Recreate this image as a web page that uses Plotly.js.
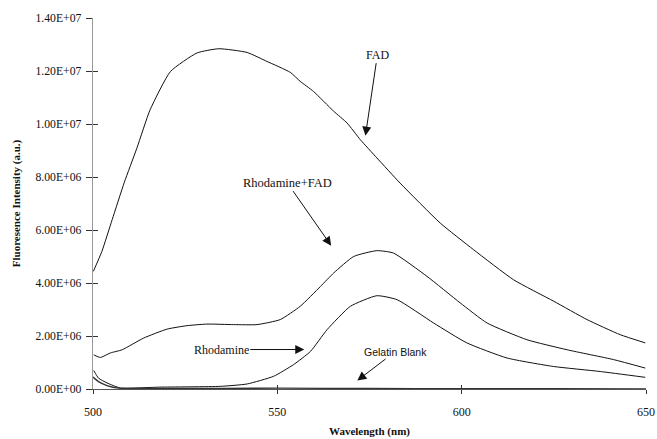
<!DOCTYPE html>
<html>
<head>
<meta charset="utf-8">
<script src="https://cdn.plot.ly/plotly-3.0.1.min.js"></script>
<style>html,body{margin:0;padding:0;background:#fff;}#chart{width:657px;height:439px;}</style>
</head>
<body>
<div id="chart"></div>
<script>
// FAD
const fadX = [500.1, 502.4, 505.2, 508.5, 511.9, 515.5, 521.0, 528.2, 534.1, 541.8, 547.2, 553.5, 556.2, 559.8, 565.3, 568.9, 572.5, 577.0, 583.3, 594.2, 603.2, 614.1, 625.0, 634.0, 643.0, 649.8];
const fadY = [4.44e6, 5.19e6, 6.39e6, 7.8e6, 9.09e6, 1.054e7, 1.198e7, 1.268e7, 1.284e7, 1.270e7, 1.236e7, 1.195e7, 1.161e7, 1.123e7, 1.048e7, 1.004e7, 9.41e6, 8.72e6, 7.77e6, 6.26e6, 5.26e6, 4.12e6, 3.31e6, 2.62e6, 2.05e6, 1.74e6];
// Rhodamine+FAD
const rfX = [500.2, 502.0, 504.7, 507.9, 513.7, 520.1, 525.5, 530.9, 538.1, 544.5, 550.8, 556.2, 561.7, 565.3, 570.7, 577.0, 581.5, 590.6, 599.6, 606.9, 617.7, 628.6, 641.2, 649.8];
const rfY = [1.29e6, 1.19e6, 1.36e6, 1.48e6, 1.92e6, 2.26e6, 2.39e6, 2.45e6, 2.43e6, 2.43e6, 2.62e6, 3.12e6, 3.87e6, 4.38e6, 5.0e6, 5.22e6, 5.13e6, 4.25e6, 3.25e6, 2.49e6, 1.86e6, 1.48e6, 1.11e6, 0.79e6];
// Rhodamine
const rhX = [500.2, 501.5, 503.8, 507.4, 518.0, 534.5, 541.8, 549.0, 554.4, 559.0, 563.5, 569.8, 577.0, 582.5, 592.4, 601.4, 612.3, 624.9, 637.6, 649.8];
const rhY = [0.70e6, 0.41e6, 0.23e6, 0.04e6, 0.07e6, 0.10e6, 0.19e6, 0.48e6, 0.92e6, 1.42e6, 2.24e6, 3.12e6, 3.52e6, 3.37e6, 2.49e6, 1.74e6, 1.17e6, 0.85e6, 0.66e6, 0.44e6];
// Gelatin Blank
const gbX = [500.0, 501.5, 503.8, 507.0, 520.0, 550.0, 575.0, 600.0, 625.0, 650.0];
const gbY = [0.45e6, 0.28e6, 0.13e6, 0.03e6, 0.02e6, 0.03e6, 0.02e6, 0.01e6, 0.01e6, 0.0];
// ticks
const yTickVals = [0, 2e6, 4e6, 6e6, 8e6, 1e7, 1.2e7, 1.4e7];
const yTickText = ["0.00E+00", "2.00E+06", "4.00E+06", "6.00E+06", "8.00E+06", "1.00E+07", "1.20E+07", "1.40E+07"];
const xTickVals = [500, 550, 600, 650];

const line = {color: '#111', width: 1, shape: 'spline', smoothing: 0.5};
const traces = [
  {x: fadX, y: fadY, mode: 'lines', line: line, name: 'FAD'},
  {x: rfX, y: rfY, mode: 'lines', line: line, name: 'Rhodamine+FAD'},
  {x: rhX, y: rhY, mode: 'lines', line: line, name: 'Rhodamine'},
  {x: gbX, y: gbY, mode: 'lines', line: {color: '#333', width: 1.3, shape: 'spline', smoothing: 0.4}, name: 'Gelatin Blank'},
  {x: [], y: [], xaxis: 'x2', yaxis: 'y2', mode: 'lines', showlegend: false}
];
const serif = 'Liberation Serif, Times New Roman, serif';
const layout = {
  width: 657, height: 439,
  margin: {l: 93, r: 11, t: 18, b: 50},
  paper_bgcolor: '#fff', plot_bgcolor: '#fff',
  showlegend: false,
  font: {family: serif, size: 11, color: '#111'},
  xaxis: {range: [500, 650], tickvals: xTickVals, ticktext: xTickVals.map(String),
    ticks: 'outside', ticklen: 4, tickcolor: '#333', showgrid: false, zeroline: false,
    showline: true, linecolor: '#555', linewidth: 1, ticklabelstandoff: 8,
    tickfont: {family: serif, size: 12},
    title: {text: '<b>Wavelength (nm)</b>', font: {family: serif, size: 11}, standoff: 8}},
  yaxis: {range: [0, 1.4e7], tickvals: yTickVals, ticktext: yTickText,
    ticks: 'outside', ticklen: 6, tickcolor: '#333', showgrid: false, zeroline: false,
    showline: true, linecolor: '#999', linewidth: 1.3, ticklabelstandoff: 2,
    tickfont: {family: serif, size: 11.7},
    title: {text: '<b>Fluoresence Intensity (a.u.)</b>', font: {family: serif, size: 11}, standoff: 12}},
  xaxis2: {range: [500, 650], overlaying: 'x', tickvals: xTickVals, ticks: 'inside', ticklen: 4,
    tickcolor: '#333', showticklabels: false, showgrid: false, zeroline: false, showline: false},
  yaxis2: {range: [0, 1.4e7], overlaying: 'y', tickvals: yTickVals, ticks: 'inside', ticklen: 5,
    tickcolor: '#333', showticklabels: false, showgrid: false, zeroline: false, showline: false},
  annotations: [
    {x: 573.9, y: 9.56e6, ax: 12, ay: -81, text: 'FAD', showarrow: true, arrowhead: 2, arrowsize: 1.8, arrowwidth: 1, arrowcolor: '#111', font: {family: serif, size: 12}},
    {x: 564.6, y: 5.41e6, ax: -44, ay: -63, text: 'Rhodamine+FAD', showarrow: true, arrowhead: 2, arrowsize: 1.8, arrowwidth: 1, arrowcolor: '#111', font: {family: serif, size: 12.5}},
    {x: 557.3, y: 1.49e6, ax: -83, ay: 0, text: 'Rhodamine', showarrow: true, arrowhead: 2, arrowsize: 1.8, arrowwidth: 1, arrowcolor: '#111', font: {family: serif, size: 12}},
    {x: 571.7, y: 0.32e6, ax: 38, ay: -29, text: 'Gelatin Blank', showarrow: true, arrowhead: 2, arrowsize: 1.8, arrowwidth: 1, arrowcolor: '#111', font: {family: 'Liberation Sans, Arial, sans-serif', size: 10.5}}
  ]
};
Plotly.newPlot('chart', traces, layout, {displayModeBar: false, staticPlot: true});
</script>
</body>
</html>
